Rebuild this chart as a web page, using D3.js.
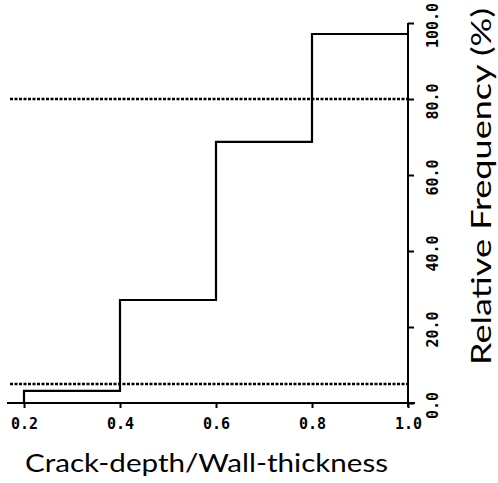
<!DOCTYPE html>
<html>
<head>
<meta charset="utf-8">
<script src="https://cdn.jsdelivr.net/npm/d3@7"></script>
<style>
  html, body { margin: 0; padding: 0; background: #fff; }
</style>
</head>
<body>
<div id="chartContainer"></div>
<script>
// cumulative crack-depth distribution
const binEdges = [0.2, 0.4, 0.6, 0.8, 1.0];
const cumPercent = [3.2, 27.1, 68.7, 97.1];
const refLevels = [5, 80];
const xTicks = [0.2, 0.4, 0.6, 0.8, 1.0];
const yTicks = [0, 20, 40, 60, 80, 100];
const xTitle = "Crack-depth/Wall-thickness";
const yTitle = "Relative Frequency  (%)";

(function() {
    const fullWidth = 498;
    const fullHeight = 483;

    const svg = d3.select("#chartContainer").append("svg")
        .attr("width", fullWidth)
        .attr("height", fullHeight)
        .attr("viewBox", [0, 0, fullWidth, fullHeight]);

    const x = d3.scaleLinear().domain([0.2, 1.0]).range([24, 408]);
    const y = d3.scaleLinear().domain([0, 100]).range([403, 23]);

    const tickFont = sel => sel
        .attr("fill", "#000")
        .style("font-family", "'DejaVu Sans Mono', monospace")
        .style("font-weight", "bold")
        .style("font-size", "15px");

    // --- x axis ---
    const xAxis = svg.append("g")
        .attr("transform", `translate(0, ${y(0)})`)
        .call(d3.axisBottom(x).tickValues(xTicks).tickSize(5).tickPadding(10)
            .tickFormat(d3.format(".1f")));
    xAxis.select(".domain").remove();
    xAxis.selectAll("line").attr("stroke", "#000").attr("stroke-width", 2);
    xAxis.selectAll("text").call(tickFont);
    svg.append("line")
        .attr("x1", x.range()[0] - 17).attr("x2", x.range()[1] + 7)
        .attr("y1", y(0)).attr("y2", y(0))
        .attr("stroke", "#000").attr("stroke-width", 2);

    // --- y axis on the right ---
    const yAxis = svg.append("g")
        .attr("transform", `translate(${x(1.0)}, 0)`)
        .call(d3.axisRight(y).tickValues(yTicks).tickSize(6)
            .tickFormat(d3.format(".1f")));
    yAxis.select(".domain").remove();
    yAxis.selectAll("line").attr("stroke", "#000").attr("stroke-width", 2);
    yAxis.selectAll("text")
        .attr("x", null).attr("dy", null)
        .attr("transform", "translate(25, 2) rotate(-90)")
        .attr("text-anchor", "middle")
        .attr("dominant-baseline", "central")
        .call(tickFont);
    svg.append("line")
        .attr("x1", x(1.0)).attr("x2", x(1.0))
        .attr("y1", y(100)).attr("y2", y(0) + 4)
        .attr("stroke", "#000").attr("stroke-width", 2);

    // --- dotted reference levels ---
    svg.append("g").selectAll("line")
        .data(refLevels)
        .join("line")
          .attr("x1", x.range()[0] - 14).attr("x2", x(1.0))
          .attr("y1", d => y(d)).attr("y2", d => y(d))
          .attr("stroke", "#000")
          .attr("stroke-width", 2.5)
          .attr("stroke-dasharray", "3,1.5");

    // --- step curve ---
    const stepPts = [[binEdges[0], 0]]
        .concat(cumPercent.map((v, i) => [binEdges[i], v]))
        .concat([[binEdges[binEdges.length - 1], cumPercent[cumPercent.length - 1]]]);
    const line = d3.line()
        .x(d => x(d[0]))
        .y(d => y(d[1]))
        .curve(d3.curveStepAfter);
    svg.append("path")
        .datum(stepPts)
        .attr("d", line)
        .attr("fill", "none")
        .attr("stroke", "#000")
        .attr("stroke-width", 2.2)
        .attr("stroke-linejoin", "miter");

    // --- titles ---
    svg.append("text")
        .attr("x", 25)
        .attr("y", 472)
        .attr("textLength", 363)
        .attr("lengthAdjust", "spacingAndGlyphs")
        .style("font-family", "Lato, 'Open Sans', sans-serif")
        .style("font-size", "25px")
        .attr("fill", "#000")
        .text(xTitle);

    svg.append("text")
        .attr("transform", "translate(491, 365) rotate(-90)")
        .attr("textLength", 357)
        .attr("lengthAdjust", "spacingAndGlyphs")
        .style("font-family", "Lato, 'Open Sans', sans-serif")
        .style("font-size", "26px")
        .attr("fill", "#000")
        .text(yTitle);
})();
</script>
</body>
</html>
